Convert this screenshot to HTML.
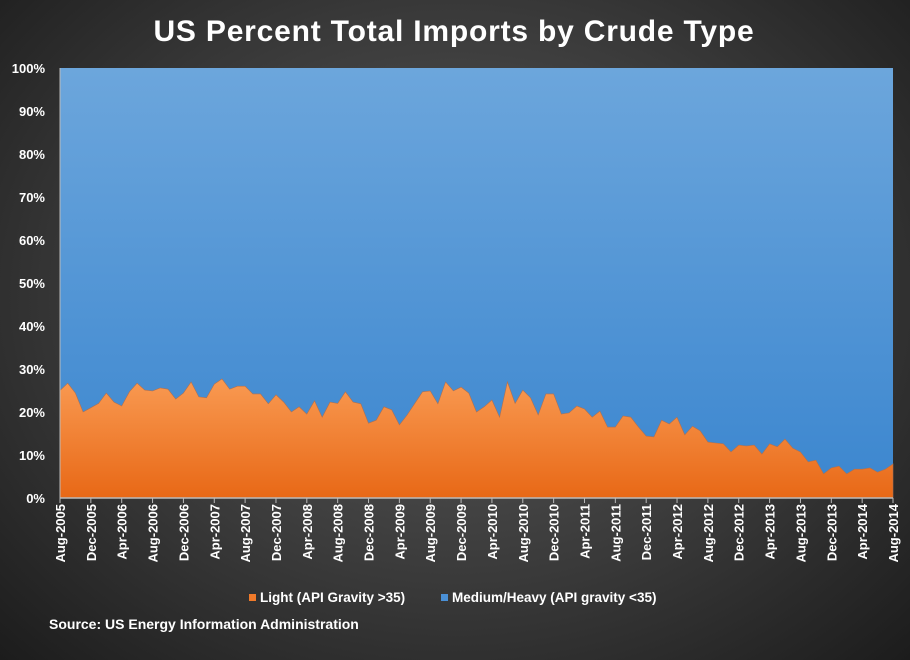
<!DOCTYPE html>
<html><head><meta charset="utf-8"><style>
html,body{margin:0;padding:0;width:910px;height:660px;overflow:hidden}
body{background:radial-gradient(ellipse at 50% 45%,#5c5c5c 0%,#3a3a3a 55%,#1c1c1c 100%);font-family:"Liberation Sans",Arial,sans-serif}
</style></head><body>
<svg id="chart" width="910" height="660" xmlns="http://www.w3.org/2000/svg">
<defs>
<linearGradient id="gb" x1="0" y1="0" x2="0" y2="1"><stop offset="0" stop-color="#6ca6dc"/><stop offset="1" stop-color="#3b86cf"/></linearGradient>
<linearGradient id="go" x1="0" y1="0" x2="0" y2="1"><stop offset="0" stop-color="#f99a52"/><stop offset="1" stop-color="#e86816"/></linearGradient>
</defs>
<text x="454" y="41" text-anchor="middle" fill="#fff" font-size="30" font-weight="bold" letter-spacing="0.8">US Percent Total Imports by Crude Type</text>
<g id="plot"></g>
<g>
<rect x="249" y="594" width="7" height="7" fill="#f07a2a"/>
<text x="260" y="602" fill="#fff" font-size="13.5" font-weight="bold">Light (API Gravity &gt;35)</text>
<rect x="441" y="594" width="7" height="7" fill="#4a90d6"/>
<text x="452" y="602" fill="#fff" font-size="13.5" font-weight="bold">Medium/Heavy (API gravity &lt;35)</text>
</g>
<text x="49" y="629" fill="#fff" font-size="14" font-weight="bold">Source: US Energy Information Administration</text>
</svg>
<script>
const light = [25,26.7,24.4,20,21,22,24.4,22.3,21.4,24.7,26.7,25.1,24.9,25.6,25.3,23,24.4,27,23.5,23.3,26.5,27.7,25.3,26,26,24.2,24.2,21.9,24,22.3,20,21.2,19.5,22.6,18.8,22.3,22,24.7,22.3,21.9,17.4,18.1,21.2,20.5,17,19.3,22,24.7,24.9,21.9,27,24.9,25.8,24.4,20,21.2,22.8,18.8,27,22,25.1,23.3,19.3,24.2,24.2,19.5,19.8,21.4,20.7,18.8,20.2,16.5,16.5,19.1,18.8,16.5,14.4,14.2,18.1,17.2,18.8,14.7,16.7,15.6,13,12.8,12.6,10.7,12.3,12.1,12.3,10.2,12.6,11.9,13.7,11.6,10.7,8.4,8.8,5.6,7,7.4,5.6,6.7,6.7,7,6,6.7,7.9];
const yTicks = [0,10,20,30,40,50,60,70,80,90,100];
const monthNames = ["Jan","Feb","Mar","Apr","May","Jun","Jul","Aug","Sep","Oct","Nov","Dec"];
const startMonth = 7, startYear = 2005, labelStep = 4;

const NS="http://www.w3.org/2000/svg";
const L=60,R=893,T=68,B=498;
const n=light.length;
const xs=i=>L+(R-L)*i/(n-1);
const ys=v=>B-(B-T)*v/100;
const g=document.getElementById('plot');
function mk(t,a){const e=document.createElementNS(NS,t);for(const k in a)e.setAttribute(k,a[k]);g.appendChild(e);return e;}
const heavy=mk('rect',{x:L,y:T,width:R-L,height:B-T,fill:'url(#gb)'});


let d=`M${xs(0)},${B}`;light.forEach((v,i)=>d+=` L${xs(i).toFixed(1)},${ys(v).toFixed(1)}`);d+=` L${xs(n-1)},${B} Z`;
const la=mk('path',{d:d,fill:'url(#go)',stroke:'#b07050','stroke-width':0.6});


yTicks.forEach(v=>{const t=mk('text',{x:45,y:ys(v)+5,'text-anchor':'end',fill:'#fff','font-size':13,'font-weight':'bold'});t.textContent=v+'%';

});
const ax=mk('line',{x1:L,y1:B,x2:R,y2:B,stroke:'#bbb','stroke-width':1.5});


const ay=mk('line',{x1:L,y1:T,x2:L,y2:B,stroke:'#bbb','stroke-width':1});


for(let i=0;i<n;i+=labelStep){const x=xs(i);
const tk=mk('line',{x1:x,y1:B,x2:x,y2:B+5,stroke:'#bbb','stroke-width':1});


const m=(startMonth+i)%12,yr=startYear+Math.floor((startMonth+i)/12);
const t=mk('text',{x:0,y:0,transform:`translate(${x+5},${B+6}) rotate(-90)`,'text-anchor':'end',fill:'#fff','font-size':13,'font-weight':'bold'});
t.textContent=monthNames[m]+'-'+yr;

}
</script>
</body></html>
